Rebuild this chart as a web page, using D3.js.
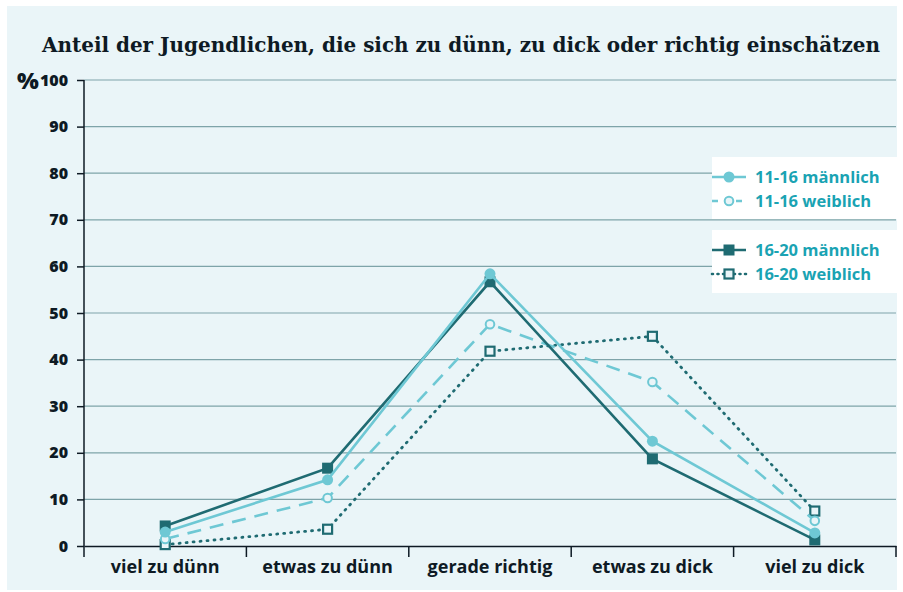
<!DOCTYPE html>
<html>
<head>
<meta charset="utf-8">
<script src="https://cdn.jsdelivr.net/npm/d3@7"></script>
<style>
  body { margin: 0; background: #fff; }
</style>
</head>
<body>
<svg id="svg" width="903" height="592"></svg>
<script>
// Data
var categories = ['viel zu dünn', 'etwas zu dünn', 'gerade richtig', 'etwas zu dick', 'viel zu dick'];
var seriesNames = ['11-16 männlich', '11-16 weiblich', '16-20 männlich', '16-20 weiblich'];
var m1116 = [3.0, 14.2, 58.4, 22.5, 2.8];
var w1116 = [1.5, 10.3, 47.6, 35.2, 5.4];
var m1620 = [4.3, 16.7, 56.7, 18.7, 1.3];
var w1620 = [0.3, 3.6, 41.8, 45.0, 7.5];
var yTicks = [0, 10, 20, 30, 40, 50, 60, 70, 80, 90, 100];

var light = '#6ec8d4';
var dark = '#1f6b72';
var ink = '#0e1a24';
var sans = '"Open Sans", sans-serif';

var svg = d3.select('#svg');

svg.append('rect')
  .attr('x', 7).attr('y', 6)
  .attr('width', 890).attr('height', 584)
  .attr('fill', '#eaf5f8');

var x = d3.scaleBand().domain(categories).range([84, 896]);
var y = d3.scaleLinear().domain([0, 100]).range([546, 80]);

// Title
svg.append('text')
  .attr('x', 461).attr('y', 52)
  .attr('text-anchor', 'middle')
  .style('font-family', '"DejaVu Serif Condensed", "DejaVu Serif", serif')
  .style('font-weight', 'bold')
  .style('font-size', '21px')
  .attr('textLength', 838)
  .attr('lengthAdjust', 'spacingAndGlyphs')
  .attr('fill', ink)
  .text('Anteil der Jugendlichen, die sich zu dünn, zu dick oder richtig einschätzen');

// grid
svg.selectAll('line.grid')
  .data(yTicks.filter(d => d > 0))
  .enter().append('line')
  .attr('class', 'grid')
  .attr('x1', 84).attr('x2', 896)
  .attr('y1', d => y(d)).attr('y2', d => y(d))
  .attr('stroke', '#7ea4a9')
  .attr('stroke-width', 1.2);

// y axis
var yAxis = svg.append('g')
  .attr('transform', 'translate(84,0)')
  .call(d3.axisLeft(y).tickValues(yTicks).tickSize(7).tickPadding(9));
yAxis.select('.domain').remove();
yAxis.append('line').attr('x1', 0).attr('x2', 0).attr('y1', y(100)).attr('y2', y(0))
  .attr('stroke', ink).attr('stroke-width', 1.5);
yAxis.selectAll('.tick line').attr('stroke', ink).attr('stroke-width', 1.5);
yAxis.selectAll('.tick text')
  .attr('fill', ink)
  .style('font-size', '16px').style('font-weight', '800')
  .style('font-family', sans);

svg.append('text')
  .attr('x', 17).attr('y', 89)
  .style('font-size', '23px').style('font-weight', '800')
  .style('font-family', sans)
  .attr('fill', ink)
  .text('%');

// x axis
var xAxis = svg.append('g')
  .attr('transform', 'translate(0,546)')
  .call(d3.axisBottom(x).tickSize(0).tickPadding(14));
xAxis.select('.domain').attr('stroke', ink).attr('stroke-width', 1.5);
xAxis.selectAll('.tick text')
  .attr('fill', ink)
  .style('font-size', '18px').style('font-weight', 'bold')
  .style('font-family', sans);
var bounds = categories.map(c => x(c)).concat([x.range()[1]]);
svg.selectAll('line.xtick')
  .data(bounds)
  .enter().append('line')
  .attr('class', 'xtick')
  .attr('x1', d => d).attr('x2', d => d)
  .attr('y1', 546).attr('y2', 557)
  .attr('stroke', ink).attr('stroke-width', 1.5);

function cx(i) { return x(categories[i]) + x.bandwidth() / 2; }

var series = [
  { name: seriesNames[0], values: m1116, color: light, dash: null, marker: 'circle', filled: true },
  { name: seriesNames[1], values: w1116, color: light, dash: '14,9', marker: 'circle', filled: false },
  { name: seriesNames[2], values: m1620, color: dark, dash: null, marker: 'square', filled: true },
  { name: seriesNames[3], values: w1620, color: dark, dash: '1,6', marker: 'square', filled: false }
];

var line = d3.line().x((d, i) => cx(i)).y(d => y(d));

// draw order: dotted first, then dashed, then dark solid, light solid
var order = [3, 1, 2, 0];

function drawMarker(g, s, px, py) {
  if (s.marker === 'circle') {
    g.append('circle')
      .attr('cx', px).attr('cy', py)
      .attr('r', s.filled ? 5.5 : 4.3)
      .attr('fill', s.filled ? s.color : '#eaf5f8')
      .attr('stroke', s.color)
      .attr('stroke-width', s.filled ? 0 : 2);
  } else {
    var h = s.filled ? 5.5 : 4.5;
    g.append('rect')
      .attr('x', px - h).attr('y', py - h)
      .attr('width', h * 2).attr('height', h * 2)
      .attr('fill', s.filled ? s.color : '#eaf5f8')
      .attr('stroke', s.color)
      .attr('stroke-width', s.filled ? 0 : 2.2);
  }
}

order.forEach(function(k) {
  var s = series[k];
  var g = svg.append('g');
  g.append('path')
    .attr('d', line(s.values))
    .attr('fill', 'none')
    .attr('stroke', s.color)
    .attr('stroke-width', s.dash === '1,6' ? 2.8 : 2.6)
    .attr('stroke-linecap', s.dash === '1,6' ? 'round' : 'butt')
    .attr('stroke-dasharray', s.dash);
  s.values.forEach(function(v, i) { drawMarker(g, s, cx(i), y(v)); });
});

// legend
var legendBoxes = [{ y: 157, h: 62, items: [0, 1] }, { y: 230, h: 63, items: [2, 3] }];
legendBoxes.forEach(function(b) {
  svg.append('rect')
    .attr('x', 712).attr('y', b.y)
    .attr('width', 188).attr('height', b.h)
    .attr('fill', '#fff');
  b.items.forEach(function(k, j) {
    var s = series[k];
    var ly = b.y + 20 + j * 24;
    var g = svg.append('g');
    g.append('line')
      .attr('x1', 712).attr('x2', 746)
      .attr('y1', ly).attr('y2', ly)
      .attr('stroke', s.color)
      .attr('stroke-width', 2.6)
      .attr('stroke-linecap', s.dash === '1,6' ? 'round' : 'butt')
      .attr('stroke-dasharray', s.dash === '1,6' ? '1,4.5' : (s.dash ? '6,6' : null));
    drawMarker(g, s, 729, ly);
    svg.append('text')
      .attr('x', 755).attr('y', ly + 6)
      .style('font-size', '16.5px').style('font-weight', 'bold')
      .style('font-family', sans)
      .attr('fill', '#1aa3b3')
      .text(s.name);
  });
});
</script>
</body>
</html>
